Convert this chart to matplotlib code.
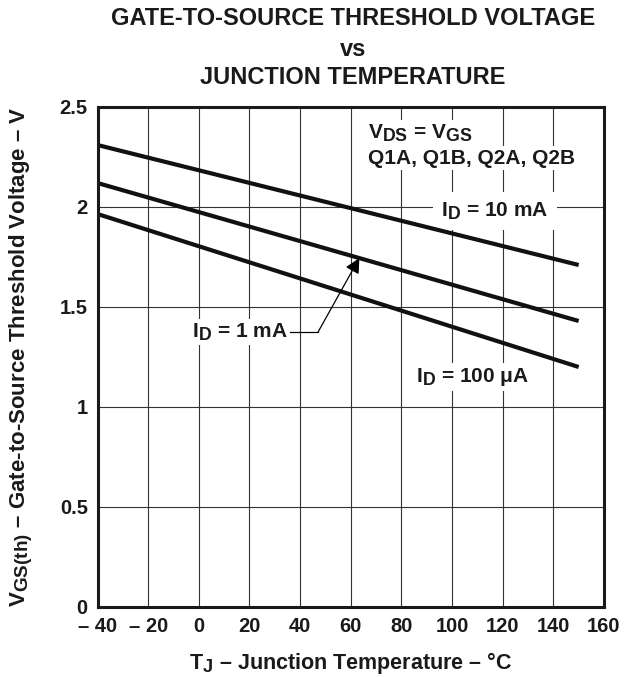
import matplotlib
matplotlib.use("Agg")
import matplotlib.pyplot as plt
import matplotlib._mathtext as _mt
import numpy as np

_mt.SHRINK_FACTOR = 0.85

plt.rcParams['font.family'] = ['Liberation Sans', 'DejaVu Sans']
plt.rcParams['font.weight'] = 'bold'
plt.rcParams['mathtext.fontset'] = 'custom'
plt.rcParams['mathtext.rm'] = 'Liberation Sans:bold'
plt.rcParams['mathtext.bf'] = 'Liberation Sans:bold'
plt.rcParams['mathtext.it'] = 'Liberation Sans:bold'

# Data (straight-line characteristics, endpoints)
temp = [-40, 150]
vth_10mA = [2.31, 1.71]
vth_1mA = [2.12, 1.43]
vth_100uA = [1.965, 1.20]

xticks = [-40, -20, 0, 20, 40, 60, 80, 100, 120, 140, 160]
xticklabels = ['\u2013 40', '\u2013 20', '0', '20', '40', '60', '80', '100', '120', '140', '160']
yticks = [0, 0.5, 1, 1.5, 2, 2.5]
yticklabels = ['0', '0.5', '1', '1.5', '2', '2.5']

DASH = '\u2013'

fig = plt.figure(figsize=(6.25, 6.77), dpi=100)
ax = fig.add_axes([97.5/625, 1-607/677, 506.5/625, 500/677])

ax.set_xlim(-40, 160)
ax.set_ylim(0, 2.5)
ax.set_xticks(xticks)
ax.set_xticklabels(xticklabels)
ax.set_yticks(yticks)
ax.set_yticklabels(yticklabels)
ax.tick_params(length=0, labelsize=14.5, pad=7, colors='#1a1a1a')
for lab in ax.get_xticklabels() + ax.get_yticklabels():
    lab.set_fontweight('bold')
ax.grid(True, color='#333333', lw=0.8, zorder=1)
ax.set_axisbelow(True)
for s in ax.spines.values():
    s.set_linewidth(2.2)
    s.set_color('#1a1a1a')
    s.set_zorder(5)

for v in (vth_10mA, vth_1mA, vth_100uA):
    ax.plot(temp, v, color='#111111', lw=3.0, solid_capstyle='butt', zorder=4)

FS = 15
box = dict(facecolor='white', edgecolor='none', pad=2)
ax.text(67, 2.37, r'V$_{\rm DS}$ = V$_{\rm GS}$', fontsize=FS, fontweight='bold',
        ha='left', va='center', bbox=box, zorder=3, color='#1a1a1a')
ax.text(67, 2.245, 'Q1A, Q1B, Q2A, Q2B', fontsize=FS, fontweight='bold',
        ha='left', va='center', bbox=box, zorder=3, color='#1a1a1a')
ax.text(117, 1.98, r'I$_{\rm D}$ = 10 mA', fontsize=FS, fontweight='bold',
        ha='center', va='center', bbox=dict(facecolor='white', edgecolor='none', pad=6),
        zorder=3, color='#1a1a1a')
ax.text(108, 1.15, r'I$_{\rm D}$ = 100 μA', fontsize=FS, fontweight='bold',
        ha='center', va='center', bbox=box, zorder=3, color='#1a1a1a')
ax.text(35, 1.375, r'I$_{\rm D}$ = 1 mA', fontsize=FS, fontweight='bold',
        ha='right', va='center', bbox=box, zorder=3, color='#1a1a1a')
ax.plot([36, 47.1], [1.375, 1.375], color='black', lw=0.9, zorder=4)
ax.annotate('', xy=(63.4, 1.745), xytext=(47.1, 1.375),
            arrowprops=dict(arrowstyle='-|>,head_length=0.9,head_width=0.45',
                            color='black', lw=0.9, shrinkA=0, shrinkB=0), zorder=4)

ax.set_xlabel('T$_{\\rm J}$ ' + DASH + ' Junction Temperature ' + DASH + ' °C',
              fontsize=15.5, fontweight='bold', labelpad=10, color='#1a1a1a')
ax.set_ylabel('V$_{\\rm GS(th)}$ ' + DASH + ' Gate-to-Source Threshold Voltage ' + DASH + ' V',
              fontsize=16, fontweight='bold', labelpad=18, color='#1a1a1a')

cx = 353 / 625
fig.text(cx, 1-18.5/677, 'GATE-TO-SOURCE THRESHOLD VOLTAGE', ha='center', va='center',
         fontsize=17, fontweight='bold', color='#1a1a1a')
fig.text(cx, 1-49/677, 'vs', ha='center', va='center', fontsize=17, fontweight='bold',
         color='#1a1a1a')
fig.text(cx, 1-77.5/677, 'JUNCTION TEMPERATURE', ha='center', va='center',
         fontsize=17, fontweight='bold', color='#1a1a1a')

fig.savefig('out.png', dpi=100, facecolor='white')
